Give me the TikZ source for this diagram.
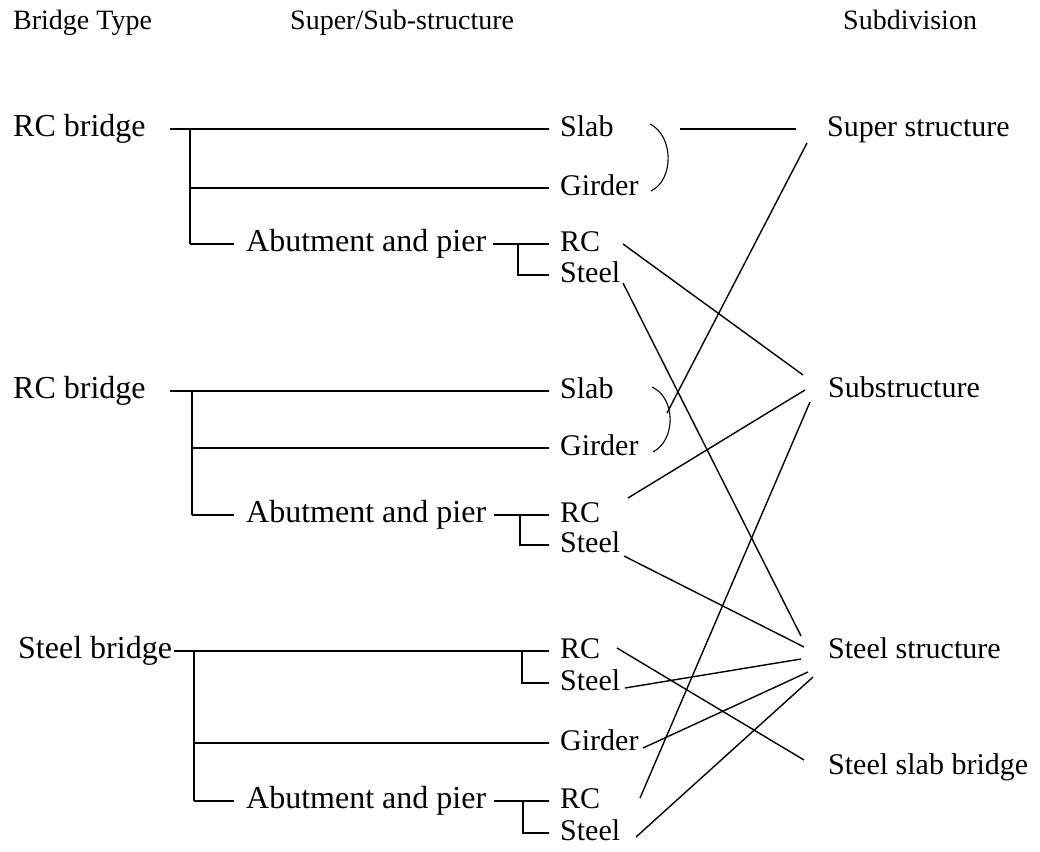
\documentclass[tikz,border=0pt]{standalone}
\usepackage{fontspec}
\setmainfont{Liberation Serif}
\begin{document}
\begin{tikzpicture}[x=1pt,y=-1pt,
  llbl/.style={anchor=west, inner sep=0pt, font=\fontsize{32}{34}\selectfont, text height=22pt, text depth=7pt},
  lbl/.style={anchor=west, inner sep=0pt, font=\fontsize{30}{32}\selectfont, text height=21pt, text depth=7pt},
  rlbl/.style={anchor=west, inner sep=0pt, font=\fontsize{30}{32}\selectfont, text height=21pt, text depth=7pt},
  hdr/.style={anchor=west, inner sep=0pt, font=\fontsize{28}{30}\selectfont, text height=19pt, text depth=6pt},
  ln/.style={line width=1.1pt},
  hub/.style={line width=2pt},
  dg/.style={line width=1.4pt}]
\useasboundingbox[fill=white] (0,0) rectangle (1040,851);

% headers
\node[hdr] (hbt) at (13,23) {Bridge Type};
\node[hdr] (hss) at (290,23) {Super/Sub-structure};
\node[hdr] (hsd) at (843,23) {Subdivision};

% right column
\node[rlbl] (ssup) at (827,129) {Super structure};
\node[rlbl] (ssub) at (828,390) {Substructure};
\node[rlbl] (sst) at (828,651) {Steel structure};
\node[rlbl] (ssb) at (828,767) {Steel slab bridge};

% ---------- group 1
\node[llbl] (rcb1) at (13,129) {RC bridge};
\node[lbl] (slab1) at (560,129) {Slab};
\node[lbl] (gir1) at (560,188) {Girder};
\node[llbl] (abt1) at (246,244) {Abutment and pier};
\node[lbl] (rc1) at (560,244) {RC};
\node[lbl] (stl1) at (560,275) {Steel};
\coordinate (g1a) at (170,129);
\coordinate (g1h) at (190,129);
\coordinate (g1b) at (518,244);
\draw[ln] (g1a) -- ([xshift=-11pt]slab1.west);
\draw[hub] (g1h) -- (g1h |- abt1.west);
\draw[ln] (g1h |- abt1.west) -- ([xshift=-12pt]abt1.west);
\draw[ln] (g1h |- gir1.west) -- ([xshift=-11pt]gir1.west);
\draw[ln] ([xshift=7pt]abt1.east) -- ([xshift=-11pt]rc1.west);
\draw[ln] (g1b) |- ([xshift=-11pt]stl1.west);
\draw[ln] (650,124) .. controls (674,136) and (674,180) .. (651,191);
\coordinate (br1) at (680,129);
\draw[ln] (br1) -- ([xshift=-31pt]ssup.west);

% ---------- group 2
\node[llbl] (rcb2) at (13,391) {RC bridge};
\node[lbl] (slab2) at (560,391) {Slab};
\node[lbl] (gir2) at (560,448) {Girder};
\node[llbl] (abt2) at (246,515) {Abutment and pier};
\node[lbl] (rc2) at (560,515) {RC};
\node[lbl] (stl2) at (560,545) {Steel};
\coordinate (g2a) at (170,391);
\coordinate (g2h) at (192,391);
\coordinate (g2b) at (520,515);
\draw[ln] (g2a) -- ([xshift=-11pt]slab2.west);
\draw[hub] (g2h) -- (g2h |- abt2.west);
\draw[ln] (g2h |- abt2.west) -- ([xshift=-12pt]abt2.west);
\draw[ln] (g2h |- gir2.west) -- ([xshift=-11pt]gir2.west);
\draw[ln] ([xshift=8pt]abt2.east) -- ([xshift=-11pt]rc2.west);
\draw[ln] (g2b) |- ([xshift=-11pt]stl2.west);
\draw[ln] (652,387) .. controls (676,398) and (676,440) .. (653,452);
\coordinate (br2) at (667,413);

% ---------- group 3
\node[llbl] (stb) at (18,651) {Steel bridge};
\node[lbl] (rc3) at (560,651) {RC};
\node[lbl] (stl3) at (560,683) {Steel};
\node[lbl] (gir3) at (560,743) {Girder};
\node[llbl] (abt3) at (246,801) {Abutment and pier};
\node[lbl] (rc4) at (560,801) {RC};
\node[lbl] (stl4) at (560,833) {Steel};
\coordinate (g3h) at (194,651);
\coordinate (g3b) at (522,651);
\coordinate (g3c) at (523,801);
\draw[ln] ([xshift=2pt]stb.east) -- ([xshift=-11pt]rc3.west);
\draw[hub] (g3h) -- (g3h |- abt3.west);
\draw[ln] (g3h |- abt3.west) -- ([xshift=-12pt]abt3.west);
\draw[ln] (g3h |- gir3.west) -- ([xshift=-11pt]gir3.west);
\draw[ln] (g3b) |- ([xshift=-11pt]stl3.west);
\draw[ln] ([xshift=8pt]abt3.east) -- ([xshift=-11pt]rc4.west);
\draw[ln] (g3c) |- ([xshift=-11pt]stl4.west);

% ---------- diagonal connectors
\draw[dg] (br2) -- ([shift={(-20,14)}]ssup.west);
\draw[dg] ([shift={(63,0)}]rc1.west) -- ([shift={(-25,-15)}]ssub.west);
\draw[dg] ([shift={(63,8)}]stl1.west) -- ([shift={(-27,-15)}]sst.west);
\draw[dg] ([shift={(68,-17)}]rc2.west) -- ([shift={(-23,0)}]ssub.west);
\draw[dg] ([shift={(64,11)}]stl2.west) -- ([shift={(-24,-4)}]sst.west);
\draw[dg] ([shift={(57,-3)}]rc3.west) -- ([shift={(-24,-7)}]ssb.west);
\draw[dg] ([shift={(65,5)}]stl3.west) -- ([shift={(-27,8)}]sst.west);
\draw[dg] ([shift={(83,5)}]gir3.west) -- ([shift={(-20,21)}]sst.west);
\draw[dg] ([shift={(80,-3)}]rc4.west) -- ([shift={(-18,12)}]ssub.west);
\draw[dg] ([shift={(76,4)}]stl4.west) -- ([shift={(-15,26)}]sst.west);
\end{tikzpicture}
\end{document}
